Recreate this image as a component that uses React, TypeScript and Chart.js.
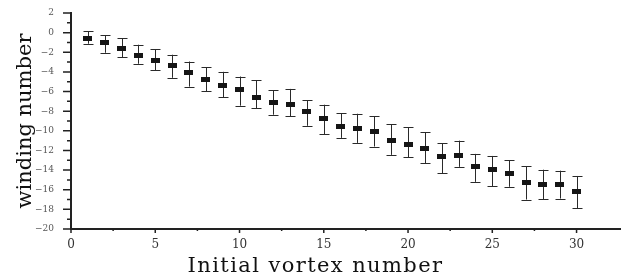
import React, { useEffect, useRef } from "react";
import { Chart, registerables } from "chart.js";

Chart.register(...registerables);

const vortexNumbers = [1, 2, 3, 4, 5, 6, 7, 8, 9, 10, 11, 12, 13, 14, 15, 16, 17, 18, 19, 20, 21, 22, 23, 24, 25, 26, 27, 28, 29, 30];
const windingMean = [-0.55, -1.02, -1.64, -2.32, -2.84, -3.35, -4.06, -4.78, -5.39, -5.83, -6.62, -7.12, -7.27, -8.06, -8.7, -9.52, -9.72, -10.12, -11.02, -11.43, -11.8, -12.64, -12.54, -13.67, -13.98, -14.3, -15.3, -15.44, -15.44, -16.17];
const windingUpper = [0.16, -0.25, -0.58, -1.23, -1.71, -2.25, -2.94, -3.52, -3.99, -4.47, -4.85, -5.88, -5.73, -6.9, -7.34, -8.23, -8.26, -8.52, -9.33, -9.66, -10.16, -11.28, -11.0, -12.35, -12.56, -13.0, -13.6, -13.96, -14.06, -14.6];
const windingLower = [-1.13, -2.05, -2.5, -3.17, -3.82, -4.6, -5.5, -5.97, -6.59, -7.44, -7.68, -8.36, -8.5, -9.49, -10.34, -10.72, -11.23, -11.6, -12.45, -12.67, -13.3, -14.3, -13.67, -15.2, -15.62, -15.7, -17.0, -16.96, -16.9, -17.87];
const yTickValues = [-20, -19, -18, -17, -16, -15, -14, -13, -12, -11, -10, -9, -8, -7, -6, -5, -4, -3, -2, -1, 0, 1, 2];
const xTickValues = [0, 2.5, 5, 7.5, 10, 12.5, 15, 17.5, 20, 22.5, 25, 27.5, 30];
const xLabelValues = [0, 5, 10, 15, 20, 25, 30];
const yLabelValues = [-20, -18, -16, -14, -12, -10, -8, -6, -4, -2, 0, 2];

const xTitle = "Initial vortex number";
const yTitle = "winding number";
const SERIF = "'DejaVu Serif', serif";

export default function App() {
  const ref = useRef<HTMLCanvasElement | null>(null);

  useEffect(() => {
    if (!ref.current) return;
    document.body.style.margin = "0";

    const marker = document.createElement("canvas");
    marker.width = 9;
    marker.height = 5;
    const mctx = marker.getContext("2d")!;
    mctx.fillStyle = "#151515";
    mctx.fillRect(0, 0, 9, 5);

    const errorBars = {
      id: "errorBars",
      beforeDatasetsDraw(chart: any) {
        const { ctx } = chart;
        const xs = chart.scales.x;
        const ys = chart.scales.y;
        ctx.save();
        ctx.strokeStyle = "#2a2a2a";
        ctx.lineWidth = 1;
        for (let i = 0; i < vortexNumbers.length; i++) {
          const px = Math.round(xs.getPixelForValue(vortexNumbers[i])) + 0.5;
          const top = ys.getPixelForValue(windingUpper[i]);
          const bot = ys.getPixelForValue(windingLower[i]);
          ctx.beginPath();
          ctx.moveTo(px, top);
          ctx.lineTo(px, bot);
          ctx.moveTo(px - 5, Math.round(top) + 0.5);
          ctx.lineTo(px + 5, Math.round(top) + 0.5);
          ctx.moveTo(px - 5, Math.round(bot) + 0.5);
          ctx.lineTo(px + 5, Math.round(bot) + 0.5);
          ctx.stroke();
        }
        ctx.restore();
      },
      afterDraw(chart: any) {
        const { ctx, chartArea } = chart;
        const xs = chart.scales.x;
        const ys = chart.scales.y;
        ctx.save();
        // extend the bottom axis line to the right edge like the reference
        ctx.strokeStyle = "#222";
        ctx.lineWidth = 2;
        ctx.beginPath();
        ctx.moveTo(chartArea.right - 1, chartArea.bottom);
        ctx.lineTo(chartArea.right + 4, chartArea.bottom);
        ctx.stroke();
        ctx.lineWidth = 1.5;
        ctx.beginPath();
        for (const v of yTickValues) {
          const py = ys.getPixelForValue(v);
          const len = v % 2 === 0 ? 8 : 4;
          ctx.moveTo(chartArea.left - len, py);
          ctx.lineTo(chartArea.left, py);
        }
        for (const v of xTickValues) {
          const px = xs.getPixelForValue(v);
          const len = v % 5 === 0 ? 4 : 2;
          ctx.moveTo(px, chartArea.bottom);
          ctx.lineTo(px, chartArea.bottom + len);
        }
        ctx.stroke();
        ctx.fillStyle = "#111";
        ctx.font = "21px " + SERIF;
        (ctx as any).letterSpacing = "1.4px";
        ctx.textAlign = "center";
        ctx.textBaseline = "alphabetic";
        ctx.fillText(xTitle, 315.5, 271.5);
        ctx.restore();
      },
    };

    const chart = new Chart(ref.current, {
      type: "scatter",
      data: {
        datasets: [
          {
            data: vortexNumbers.map((x, i) => ({ x, y: windingMean[i] })),
            pointStyle: marker as any,
            pointRadius: 5,
            backgroundColor: "#151515",
            borderColor: "#151515",
          },
        ],
      },
      options: {
        animation: false,
        responsive: false,
        layout: { padding: { top: 13, right: 2, left: 0, bottom: 0 } },
        plugins: { legend: { display: false }, tooltip: { enabled: false } },
        scales: {
          x: {
            type: "linear",
            min: 0,
            max: 32.4,
            grid: { display: true, drawOnChartArea: false, drawTicks: true, tickLength: 9, tickColor: "rgba(0,0,0,0)", color: "rgba(0,0,0,0)" },
            border: { display: true, color: "#222", width: 2 },
            afterBuildTicks: (scale: any) => {
              scale.ticks = xLabelValues.map((value) => ({ value }));
            },
            afterFit: (scale: any) => {
              scale.height = 47;
            },
            ticks: {
              padding: 0,
              color: "#333",
              font: { family: SERIF, size: 12 },
              maxRotation: 0,
              autoSkip: false,
            },
          },
          y: {
            type: "linear",
            min: -20,
            max: 2,
            grid: { display: true, drawOnChartArea: false, drawTicks: true, tickLength: 17, tickColor: "rgba(0,0,0,0)", color: "rgba(0,0,0,0)" },
            border: { display: true, color: "#222", width: 2 },
            afterBuildTicks: (scale: any) => {
              scale.ticks = yLabelValues.map((value) => ({ value }));
            },
            afterFit: (scale: any) => {
              scale.width = 71;
            },
            ticks: {
              padding: 0,
              color: "#555",
              font: { family: SERIF, size: 9 },
              autoSkip: false,
              callback: (v: any) => String(v).replace("-", "\u2212"),
            },
            title: {
              display: true,
              text: yTitle,
              color: "#111",
              font: { family: SERIF, size: 21 },
              padding: { top: 13, bottom: 0 },
            },
          },
        },
      },
      plugins: [errorBars],
    });
    return () => chart.destroy();
  }, []);

  return (
    <div style={{ position: "absolute", left: 0, top: 0, width: 623, height: 276 }}>
      <canvas ref={ref} width={623} height={276} style={{ width: 623, height: 276 }} />
    </div>
  );
}
